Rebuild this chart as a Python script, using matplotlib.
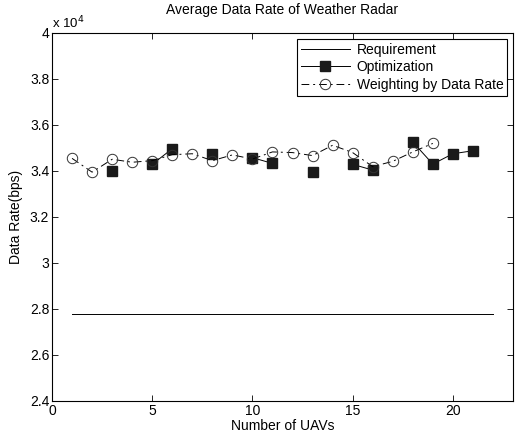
import numpy as np
import matplotlib
matplotlib.use("Agg")
import matplotlib.pyplot as plt
from matplotlib.ticker import FuncFormatter, MultipleLocator

plt.rcParams['font.family'] = ['Liberation Sans', 'DejaVu Sans']

# number of UAVs
uavs = np.arange(1, 23)

# requirement (bps)
requirement = np.full(len(uavs), 27770.0)

# optimization result, gaps where no value was plotted
optimization = np.array([np.nan, np.nan, 34000, np.nan, 34290, 34970, np.nan, 34730,
                         np.nan, 34580, 34330, np.nan, 33960, np.nan, 34290, 34040,
                         np.nan, 35260, 34300, 34750, 34880, np.nan])

# weighting by data rate, x = 1..19
weight_x = np.arange(1, 20)
weighting = np.array([34550, 33950, 34510, 34380, 34450, 34710, 34750, 34450, 34700,
                      34520, 34830, 34800, 34670, 35120, 34800, 34190, 34420, 34830,
                      35200])

fs = 10

fig = plt.figure(figsize=(5.15, 4.37), dpi=100)
ax = fig.add_axes([52 / 515, 36 / 437, 461 / 515, 368 / 437])

ax.plot(uavs, requirement, color='black', lw=0.7, label='Requirement')
ax.plot(uavs, optimization, color='black', lw=0.7, marker='s', markersize=6.5,
        markerfacecolor='#1a1a1a', markeredgecolor='#1a1a1a', label='Optimization')
ax.plot(weight_x, weighting, color='black', lw=0.7, marker='o', markersize=7.5,
        markerfacecolor='none', markeredgecolor='#333333', markeredgewidth=0.7,
        dashes=(8, 4, 2, 4), label='Weighting by Data Rate')

ax.set_xlim(0, 23)
ax.set_ylim(24000, 40000)
ax.xaxis.set_major_locator(MultipleLocator(5))
ax.yaxis.set_major_locator(MultipleLocator(2000))
ax.yaxis.set_major_formatter(FuncFormatter(lambda v, p: '%g' % round(v / 1e4, 2)))
ax.tick_params(direction='in', top=True, right=True, labelsize=fs, length=4, width=0.6,
               pad=2)
for s in ax.spines.values():
    s.set_linewidth(0.8)

ax.text(0.0, 1.005, 'x 10$^4$', transform=ax.transAxes, fontsize=fs - 0.5,
        ha='left', va='bottom')
ax.set_title('Average Data Rate of Weather Radar', fontsize=fs, pad=14)
ax.set_xlabel('Number of UAVs', fontsize=fs, labelpad=1)
ax.set_ylabel('Data Rate(bps)', fontsize=fs, labelpad=5)

leg = ax.legend(loc='upper right', fontsize=fs, fancybox=False, edgecolor='black',
                framealpha=1, borderaxespad=0.4, handlelength=3.5, labelspacing=0.25,
                borderpad=0.3, handletextpad=0.5)
leg.get_frame().set_linewidth(0.8)

fig.savefig('out.png', dpi=100)
